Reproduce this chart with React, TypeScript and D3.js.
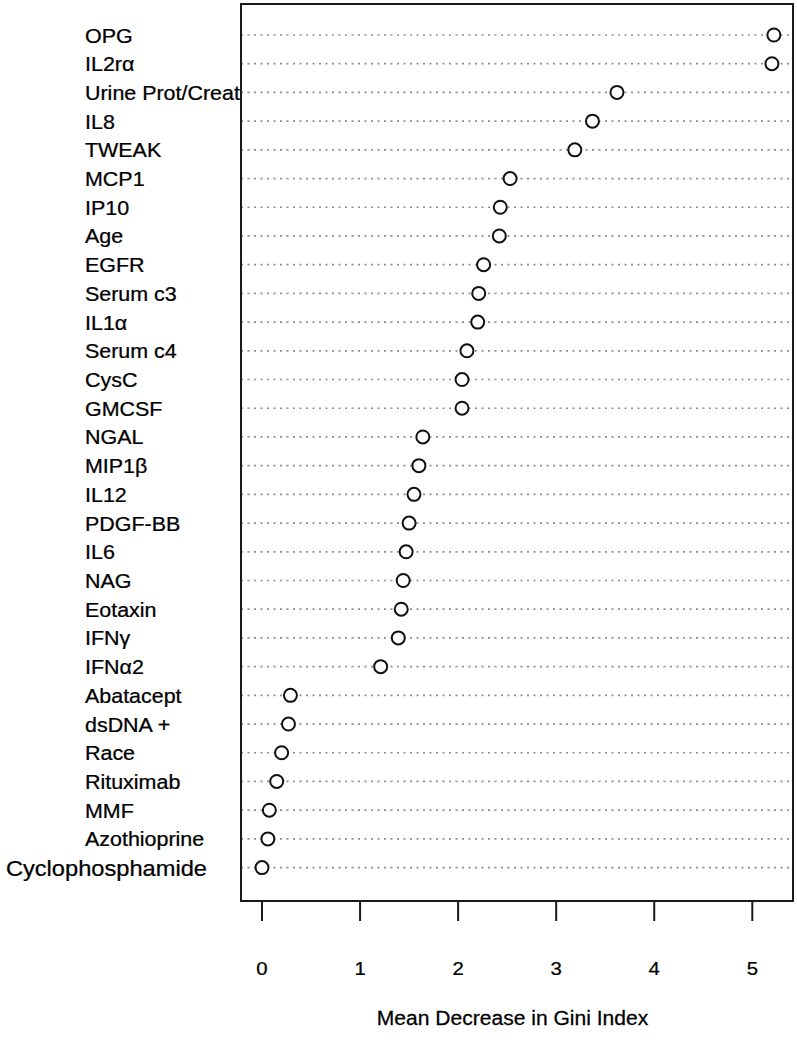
import React from "react";
import * as d3 from "d3";

const variables: string[] = [
  "OPG", "IL2r\u03b1", "Urine Prot/Creat", "IL8", "TWEAK", "MCP1", "IP10", "Age",
  "EGFR", "Serum c3", "IL1\u03b1", "Serum c4", "CysC", "GMCSF", "NGAL", "MIP1\u03b2",
  "IL12", "PDGF-BB", "IL6", "NAG", "Eotaxin", "IFN\u03b3", "IFN\u03b12", "Abatacept",
  "dsDNA +", "Race", "Rituximab", "MMF", "Azothioprine", "Cyclophosphamide",
];

const giniValues: number[] = [
  5.22, 5.20, 3.62, 3.37, 3.19, 2.53, 2.43, 2.42,
  2.26, 2.21, 2.20, 2.09, 2.04, 2.04, 1.64, 1.60,
  1.55, 1.50, 1.47, 1.44, 1.42, 1.39, 1.21, 0.29,
  0.27, 0.20, 0.15, 0.075, 0.06, 0.0,
];

const xTicks: number[] = [0, 1, 2, 3, 4, 5];
const xTitle = "Mean Decrease in Gini Index";

const W = 797;
const H = 1050;
const box = { left: 241, right: 793, top: 4, bottom: 901 };
const FONT = "'Liberation Sans', Arial, Helvetica, sans-serif";
const SX = 1.1;

export default function App() {
  const x = d3.scaleLinear().domain([0, 5]).range([262, 752.3]);
  const y = d3.scalePoint<string>().domain(variables).range([35, 867.6]);
  const last = variables[variables.length - 1];

  return (
    <svg
      width={W}
      height={H}
      style={{ position: "absolute", left: 0, top: 0, background: "#fff" }}
    >
      <rect x={0} y={0} width={W} height={H} fill="#fff" />
      {variables.map((v) => (
        <line
          key={"g" + v}
          x1={box.left}
          x2={box.right}
          y1={y(v)}
          y2={y(v)}
          stroke="#8f8f8f"
          strokeWidth={1.7}
          strokeDasharray="2,4.5"
        />
      ))}
      {variables.map((v, i) => (
        <circle
          key={"c" + v}
          cx={x(giniValues[i])}
          cy={y(v)}
          r={6.5}
          fill="#fff"
          stroke="#111"
          strokeWidth={2}
        />
      ))}
      <rect
        x={box.left}
        y={box.top}
        width={box.right - box.left}
        height={box.bottom - box.top}
        fill="none"
        stroke="#1a1a1a"
        strokeWidth={2}
      />
      {variables.map((v) => {
        const isLast = v === last;
        const tx = isLast ? 207 : 85;
        const ty = (y(v) as number) + (isLast ? 8.5 : 7.5);
        return (
          <text
            key={"l" + v}
            transform={`translate(${tx},${ty}) scale(${SX},1)`}
            textAnchor={isLast ? "end" : "start"}
            fontFamily={FONT}
            fontSize={isLast ? 21.5 : 19.5}
            fill="#000"
            stroke="#000"
            strokeWidth={0.25}
          >
            {v}
          </text>
        );
      })}
      {xTicks.map((t) => (
        <g key={"t" + t}>
          <line
            x1={x(t)}
            x2={x(t)}
            y1={box.bottom}
            y2={box.bottom + 20}
            stroke="#1a1a1a"
            strokeWidth={2}
          />
          <text
            transform={`translate(${x(t)},${975}) scale(${SX},1)`}
            textAnchor="middle"
            fontFamily={FONT}
            fontSize={18.5}
            fill="#000"
            stroke="#000"
            strokeWidth={0.25}
          >
            {t}
          </text>
        </g>
      ))}
      <text
        transform={`translate(${512.5},${1025}) scale(1.08,1)`}
        textAnchor="middle"
        fontFamily={FONT}
        fontSize={19.5}
        fill="#000"
        stroke="#000"
        strokeWidth={0.25}
      >
        {xTitle}
      </text>
    </svg>
  );
}
